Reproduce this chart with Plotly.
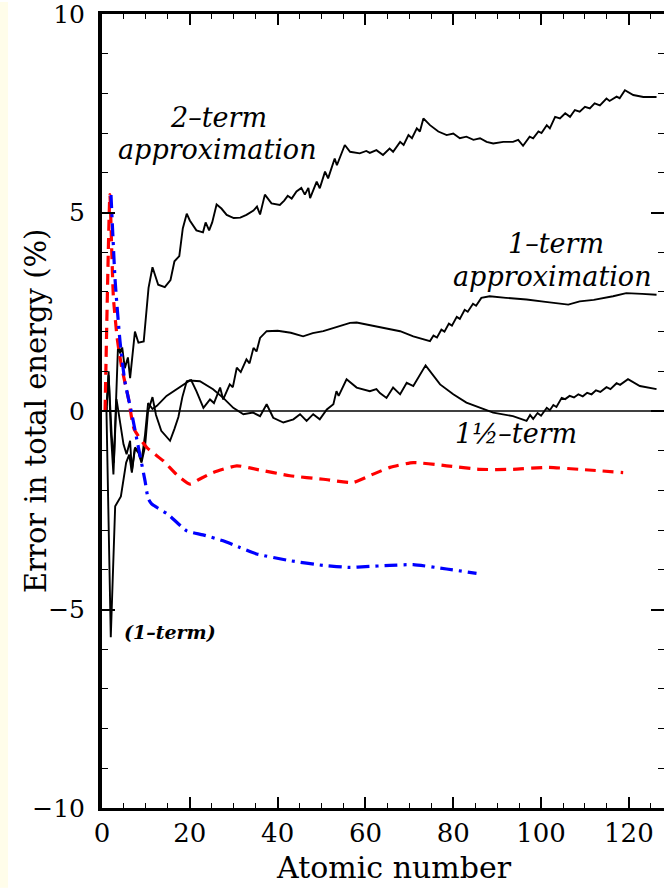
import plotly.graph_objects as go

# ---------------- data ----------------
two_term_x = [1, 1.5, 2.2, 2.7, 3.7, 4.1, 4.6, 5.2, 5.9, 6.4, 7.5, 8.3, 9.5, 10.6, 11.5, 12.8, 14.3, 15.6,
              16.5, 17.6, 18.4, 19.3, 20.0, 21.5, 23.0, 23.6, 24.4, 25.1, 26.1, 27.2, 28.4, 30.0, 31.5, 32.9,
              34.5, 35.3, 36.0, 37.1, 38.6, 40.5, 41.5, 42.3, 43.2, 44.3, 45.4, 46.2, 47.0, 47.4, 48.9, 49.6,
              50.8, 51.5, 53.0, 53.5, 55.3, 56.5, 58.7, 60.2, 61.0, 62.5, 64.0, 65.5, 66.3, 67.9, 68.7, 69.8,
              70.6, 71.7, 72.4, 73.2, 74.7, 76.6, 78.5, 80.0, 81.5, 83.0, 84.6, 86.1, 87.6, 89.1, 91.4, 93.6,
              94.8, 95.9, 97.4, 98.2, 99.4, 100.1, 101.3, 102.0, 103.2, 104.3, 105.5, 106.6, 107.7, 108.8,
              110.0, 111.1, 112.2, 113.4, 114.9, 115.6, 117.2, 117.9, 119.1, 121.0, 123.3, 126.3]
two_term_y = [0.0, 0.9, -0.6, -1.3, 1.8, 1.45, 1.6, 1.08, 1.35, 0.83, 2.0, 1.72, 1.75, 3.1, 3.62, 3.18, 3.12, 3.3,
              3.77, 3.9, 4.6, 4.97, 4.8, 4.55, 4.5, 4.75, 4.55, 4.75, 5.2, 5.1, 4.94, 4.86, 4.87, 4.94,
              5.05, 5.15, 4.95, 5.45, 5.23, 5.19, 5.3, 5.42, 5.35, 5.53, 5.62, 5.45, 5.62, 5.36, 5.78, 5.61,
              6.03, 5.86, 6.36, 6.19, 6.70, 6.53, 6.49, 6.55, 6.50, 6.57, 6.45, 6.61, 6.53, 6.78, 6.70, 6.95,
              6.87, 7.12, 7.04, 7.37, 7.20, 7.04, 6.95, 6.99, 6.87, 6.91, 6.83, 6.87, 6.78, 6.74, 6.78, 6.78,
              6.83, 6.68, 6.91, 6.87, 7.04, 7.00, 7.20, 7.12, 7.41, 7.37, 7.50, 7.41, 7.58, 7.54,
              7.66, 7.62, 7.75, 7.70, 7.87, 7.81, 7.92, 7.88, 8.08, 7.96, 7.91, 7.91]

one_term_x = [1, 2, 3, 4.3, 5.5, 6.2, 6.8, 7.5, 8.3, 9.0, 9.8, 10.5, 11.5, 12.3, 13.5, 15.5, 16.5, 17.4, 18.3,
              19.3, 20.3, 21.5, 23.1, 24.6, 25.5, 26.9, 27.6, 29.1, 29.8, 30.7, 31.6, 32.9, 33.6, 34.5, 35.2,
              36.0, 37.5, 40.0, 43.0, 45.8, 48.0, 50.4, 53.0, 56.5, 58.0, 60.3, 63.3, 67.9, 70.9, 74.7, 75.5,
              76.3, 77.3, 78.0, 79.0, 79.7, 80.8, 81.5, 82.6, 83.3, 84.5, 85.2, 86.4, 88.3, 92.0, 96.7, 101.0,
              106.2, 108.8, 112.0, 116.4, 119.4, 123.0, 126.3]
one_term_y = [0.1, -5.7, -2.4, -2.15, -1.3, -1.1, -1.55, -0.95, -1.05, -1.3, -0.9, 0.0, 0.35, -0.1, -0.5, -0.75,
              -0.45, -0.15, 0.35, 0.75, 0.78, 0.5, 0.08, 0.29, 0.2, 0.59, 0.29, 0.67, 0.6, 1.09, 0.98, 1.30, 1.2,
              1.59, 1.5, 1.84, 2.01, 2.02, 1.97, 1.88, 1.96, 2.01, 2.10, 2.22, 2.23, 2.18, 2.12, 2.01, 1.88, 1.76,
              1.9, 1.85, 2.05, 2.0, 2.2, 2.15, 2.37, 2.32, 2.55, 2.5, 2.7, 2.65, 2.85, 2.89, 2.85, 2.81, 2.75,
              2.68, 2.76, 2.80, 2.89, 2.97, 2.95, 2.93]

half_term_x = [1, 1.5, 2, 2.6, 3.3, 4.2, 4.9, 5.6, 6.4, 6.8, 7.5, 8.2, 9.0, 9.8, 10.5, 11.5, 12.5, 14.7, 17.0,
               20.0, 22.3, 25.3, 27.6, 29.9, 32.2, 34.4, 36.0, 37.5, 39.0, 41.3, 43.6, 45.1, 46.6, 48.1, 49.6,
               51.2, 52.7, 53.4, 53.9, 55.7, 58.0, 61.0, 62.5, 63.3, 64.8, 66.3, 67.9, 69.4, 70.9, 72.4, 73.7,
               77.0, 80.0, 83.0, 86.1, 89.1, 93.6, 95.5, 96.7, 97.5, 98.2, 99.2, 100.0, 101.3, 102.0, 102.8,
               103.5, 104.7, 105.5, 106.5, 107.5, 108.5, 109.5, 110.5, 111.5, 112.5, 113.5, 114.9, 115.8, 117.2,
               118.0, 119.8, 122.5, 126.3]
half_term_y = [0.0, 1.0, -0.5, -1.6, 0.3, -0.4, -0.84, -1.09, -0.75, -1.51, -0.92, -1.0, -1.26, -0.6, 0.2, 0.05,
               0.13, 0.38, 0.55, 0.77, 0.75, 0.55, 0.33, 0.08, -0.08, -0.04, -0.13, 0.17, -0.17, -0.29, -0.21,
               -0.08, -0.25, -0.08, -0.21, 0.04, 0.17, 0.50, 0.38, 0.80, 0.59, 0.50, 0.55, 0.45, 0.33, 0.59, 0.42,
               0.71, 0.63, 0.92, 1.15, 0.67, 0.42, 0.21, 0.08, -0.04, -0.13, -0.2, -0.25, -0.1, -0.2, -0.05, -0.12,
               0.08, 0.02, 0.15, 0.1, 0.33, 0.30, 0.38, 0.34, 0.42, 0.37, 0.46, 0.42, 0.52, 0.48, 0.60, 0.55, 0.70,
               0.66, 0.80, 0.63, 0.55]

red_x = [0.7, 1.8, 2.2, 2.6, 3.5, 4.5, 6.0, 7.3, 10.2, 14.0, 17.0, 20.0, 22.5, 25.3, 30.7, 35.2, 42.8, 50.4,
         57.2, 61.8, 65.6, 70.9, 78.5, 86.1, 93.6, 101.3, 108.8, 118.7]
red_y = [0.0, 5.45, 4.1, 2.85, 1.8, 1.09, 0.33, -0.45, -0.92, -1.26, -1.6, -1.84, -1.7, -1.55, -1.38, -1.47,
         -1.63, -1.72, -1.80, -1.59, -1.42, -1.30, -1.38, -1.47, -1.47, -1.42, -1.47, -1.55]

blue_x = [2.05, 3.0, 4.1, 5.2, 6.8, 8.3, 9.8, 10.5, 11.3, 12.5, 15.0, 19.3, 23.0, 27.6, 31.0, 35.2, 42.8, 50.4,
          56.5, 60.0, 65.6, 70.9, 78.5, 85.3]
blue_y = [5.44, 3.27, 1.76, 0.75, -0.08, -0.92, -1.76, -2.2, -2.34, -2.43, -2.6, -3.02, -3.12, -3.27, -3.42,
          -3.60, -3.77, -3.89, -3.94, -3.92, -3.89, -3.87, -3.98, -4.09]

x_range = [0, 128]
y_range = [-10, 10]
x_ticks = [0, 20, 40, 60, 80, 100, 120]
y_ticks = [-10, -5, 0, 5, 10]

# ---------------- figure ----------------
W, H = 664, 888
L, T, B, R = 102, 12, 80, 0
pw = W - L - R
ph = H - T - B

def px_x(p):
    return (p - L) / pw

def px_y(p):
    return 1 - (p - T) / ph

SERIF = "DejaVu Serif"

fig = go.Figure()

fig.add_trace(go.Scatter(x=[x_range[0], x_range[1]], y=[0, 0], mode="lines",
                         line=dict(color="black", width=1.6), hoverinfo="skip", showlegend=False))
for xs, ys in [(two_term_x, two_term_y), (one_term_x, one_term_y), (half_term_x, half_term_y)]:
    fig.add_trace(go.Scatter(x=xs, y=ys, mode="lines", line=dict(color="black", width=1.9),
                             showlegend=False))
fig.add_trace(go.Scatter(x=red_x, y=red_y, mode="lines",
                         line=dict(color="#ff0000", width=3.2, dash="11px,7px", shape="spline", smoothing=0.5),
                         showlegend=False))
fig.add_trace(go.Scatter(x=blue_x, y=blue_y, mode="lines",
                         line=dict(color="#0000ff", width=3.2, dash="13px,6px,3px,6px", shape="spline",
                                   smoothing=0.5),
                         showlegend=False))
# invisible trace for right-side ticks
fig.add_trace(go.Scatter(x=[None], y=[None], yaxis="y2", showlegend=False))

fig.update_layout(
    width=W, height=H,
    margin=dict(l=L, t=T, b=B, r=R, pad=0),
    paper_bgcolor="white", plot_bgcolor="white",
    font=dict(family=SERIF, color="black"),
    xaxis=dict(range=x_range, tickvals=x_ticks, ticks="inside", ticklen=11, tickwidth=1.5,
               tickcolor="black", showline=True, linecolor="black", linewidth=3, mirror="ticks",
               showgrid=False, zeroline=False, ticklabeloverflow="allow",
               minor=dict(dtick=5, tick0=0, ticks="inside", ticklen=5, tickwidth=1.2, tickcolor="black"),
               tickfont=dict(family=SERIF, size=26, color="black")),
    yaxis=dict(range=y_range, tickvals=y_ticks, ticks="inside", ticklen=13, tickwidth=1.5,
               tickcolor="black", showline=True, linecolor="black", linewidth=4, mirror=False,
               showgrid=False, zeroline=False, ticklabelstandoff=8, ticklabeloverflow="allow",
               minor=dict(dtick=1, tick0=0, ticks="inside", ticklen=6, tickwidth=1.2, tickcolor="black"),
               tickfont=dict(family=SERIF, size=25, color="black")),
    yaxis2=dict(range=y_range, overlaying="y", side="right", tickvals=y_ticks, ticks="inside",
                ticklen=13, tickwidth=1.5, tickcolor="black", showline=False, showticklabels=False,
                showgrid=False, zeroline=False,
                minor=dict(dtick=1, tick0=0, ticks="inside", ticklen=6, tickwidth=1.2, tickcolor="black")),
)

# cream strip at far left
fig.add_shape(type="rect", xref="paper", yref="paper", x0=px_x(0), x1=px_x(8), y0=px_y(H), y1=px_y(0),
              fillcolor="#fffdea", line=dict(width=0), layer="below")

ann_font = dict(family=SERIF, size=27, color="black")
annotations = [
    dict(text="<i>2–term</i>", x=px_x(218), y=px_y(116)),
    dict(text="<i>approximation</i>", x=px_x(217), y=px_y(148)),
    dict(text="<i>1–term</i>", x=px_x(556), y=px_y(242)),
    dict(text="<i>approximation</i>", x=px_x(552), y=px_y(275)),
    dict(text="<i>1½–term</i>", x=px_x(516), y=px_y(433)),
]
for a in annotations:
    fig.add_annotation(xref="paper", yref="paper", showarrow=False, font=ann_font,
                       xanchor="center", yanchor="middle", borderpad=0, **a)
fig.add_annotation(xref="paper", yref="paper", showarrow=False, text="<b><i>(1–term)</i></b>",
                   x=px_x(170), y=px_y(632), xanchor="center", yanchor="middle",
                   font=dict(family=SERIF, size=19, color="black"))

# axis titles
fig.add_annotation(xref="paper", yref="paper", showarrow=False, text="Atomic number",
                   x=px_x(394), y=px_y(868), xanchor="center", yanchor="middle", borderpad=0,
                   font=dict(family=SERIF, size=30, color="black"))
fig.add_annotation(xref="paper", yref="paper", showarrow=False, text="Error in total energy (%)",
                   x=px_x(36), y=px_y(410), xanchor="center", yanchor="middle", textangle=-90,
                   font=dict(family=SERIF, size=29, color="black"))

fig.write_html("out.html", config={"displayModeBar": False},
               post_script="document.body.style.margin='0';document.body.style.overflow='hidden';")
